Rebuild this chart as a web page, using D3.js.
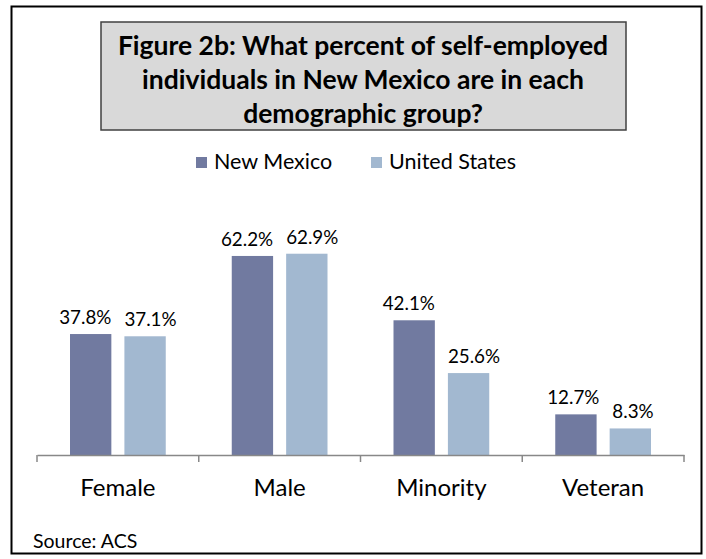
<!DOCTYPE html>
<html><head><meta charset="utf-8">
<script src="https://cdn.jsdelivr.net/npm/d3@7"></script>
<style>body{margin:0;background:#fff}svg{display:block}</style>
</head><body>
<script>
const categories = ["Female", "Male", "Minority", "Veteran"];
const seriesNames = ["New Mexico", "United States"];
const newMexico = [37.8, 62.2, 42.1, 12.7];
const unitedStates = [37.1, 62.9, 25.6, 8.3];
const colors = ["#717aa0", "#a2b8d0"];
const titleLines = ["Figure 2b: What percent of self-employed", "individuals in New Mexico are in each", "demographic group?"];
const sourceText = "Source: ACS";

const W = 706, H = 559;
const font = "Lato, 'Open Sans', sans-serif";
const svg = d3.select("body").append("svg").attr("width", W).attr("height", H);

svg.append("rect").attr("x", 11.5).attr("y", 6.5).attr("width", 690).attr("height", 547)
  .attr("fill", "#fff").attr("stroke", "#000").attr("stroke-width", 2);

// title box
svg.append("rect").attr("x", 101).attr("y", 22).attr("width", 525).attr("height", 108)
  .attr("fill", "#d9d9d9").attr("stroke", "#404040").attr("stroke-width", 1.5);
svg.append("g").selectAll("text").data(titleLines).join("text")
  .attr("x", 363).attr("y", (d, i) => 55 + i * 34)
  .attr("text-anchor", "middle").attr("font-family", font).attr("font-weight", "bold")
  .attr("font-size", 26.5).attr("fill", "#000").text(d => d);

// legend
const legX = [196, 371];
const lg = svg.append("g").selectAll("g").data(seriesNames).join("g")
  .attr("transform", (d, i) => `translate(${legX[i]},157)`);
lg.append("rect").attr("width", 11).attr("height", 11).attr("fill", (d, i) => colors[i]);
lg.append("text").attr("x", 18).attr("y", 12).attr("font-family", font).attr("font-size", 21.5).text(d => d);

// scales
const x0 = d3.scaleBand().domain(categories).range([37, 684]).paddingInner(0).paddingOuter(0);
const x1 = d3.scaleBand().domain(seriesNames).range([33, x0.bandwidth() - 33]).paddingInner(0.24);
const y = d3.scaleLinear().domain([0, 70]).range([455, 231]);

const data = categories.map((c, i) => ({cat: c, vals: [newMexico[i], unitedStates[i]]}));
const groups = svg.append("g").selectAll("g").data(data).join("g")
  .attr("transform", d => `translate(${x0(d.cat)},0)`);
groups.selectAll("rect").data(d => d.vals.map((v, i) => ({s: seriesNames[i], v, i}))).join("rect")
  .attr("x", d => x1(d.s)).attr("width", x1.bandwidth())
  .attr("y", d => y(d.v)).attr("height", d => y(0) - y(d.v))
  .attr("fill", d => colors[d.i]);
groups.each(function() {
  const g = d3.select(this);
  const labels = g.selectAll("text").data(d => d.vals.map((v, i) => ({s: seriesNames[i], v, i}))).join("text")
    .attr("x", d => x1(d.s) + x1.bandwidth() / 2).attr("y", d => y(d.v) - 10)
    .attr("text-anchor", "middle").attr("font-family", font).attr("font-size", 18.8)
    .text(d => d.v.toFixed(1) + "%");
  // push labels apart to keep a minimum gap, like the original layout
  const nodes = labels.nodes();
  const w = nodes.map(n => n.getComputedTextLength());
  const c = nodes.map(n => +n.getAttribute("x"));
  const need = (w[0] + w[1]) / 2 + 13;
  const dist = c[1] - c[0];
  if (dist < need) {
    const s = (need - dist) / 2;
    d3.select(nodes[0]).attr("x", c[0] - s);
    d3.select(nodes[1]).attr("x", c[1] + s);
  }
});

// axis
const ax = svg.append("g").attr("transform", "translate(0,455)")
  .call(d3.axisBottom(x0).tickSize(0).tickPadding(24).tickSizeOuter(0));
ax.select(".domain").attr("stroke", "#888").attr("stroke-width", 1.5);
ax.selectAll("text").attr("font-family", font).attr("font-size", 24).attr("fill", "#000");
const tickPos = categories.map(c => x0(c)).concat([x0.range()[1]]);
ax.selectAll("line.tk").data(tickPos).join("line").attr("class", "tk")
  .attr("x1", d => d).attr("x2", d => d).attr("y1", 0).attr("y2", 7)
  .attr("stroke", "#888").attr("stroke-width", 1.5);

svg.append("text").attr("x", 33).attr("y", 548).attr("font-family", font).attr("font-size", 19.5)
  .text(sourceText);
</script>
</body></html>
